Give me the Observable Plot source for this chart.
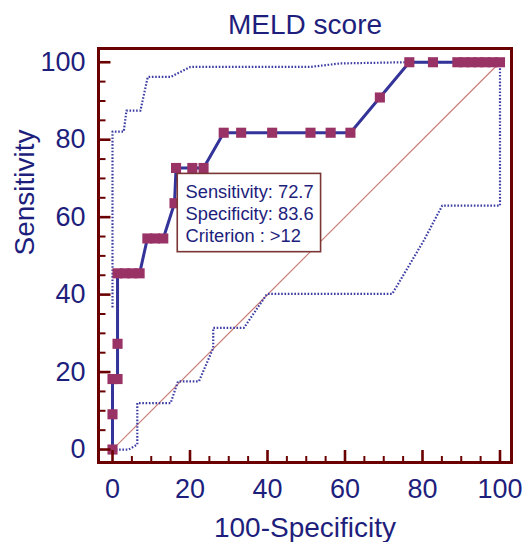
<!DOCTYPE html>
<html><head><meta charset="utf-8">
<script src="https://cdn.jsdelivr.net/npm/d3@7"></script>
<script src="https://cdn.jsdelivr.net/npm/@observablehq/plot@0.6"></script>
<style>body{margin:0;background:#fff}</style>
</head><body><div id="chart"></div>
<script>
// ROC curve points (100-Specificity, Sensitivity)
const rocFpr = [0, 0, 0, 1.3, 1.3, 1.3, 3.2, 5.1, 7.0, 9.0, 11.0, 13.1, 16.0, 16.4, 20.6, 23.5, 28.7, 33.2, 41.2, 51.1, 56.3, 61.4, 69.0, 76.6, 82.7, 89.0, 90.8, 92.6, 94.4, 96.2, 98.1, 100];
const rocSens = [0, 9.1, 18.2, 18.2, 27.3, 45.5, 45.5, 45.5, 45.5, 54.5, 54.5, 54.5, 63.6, 72.7, 72.7, 72.7, 81.8, 81.8, 81.8, 81.8, 81.8, 81.8, 90.9, 100, 100, 100, 100, 100, 100, 100, 100, 100];
// Upper confidence bound
const upperFpr = [0, 0, 2.9, 3.6, 7.2, 9.1, 15.0, 20.1, 51.1, 58.8, 75.6, 100];
const upperSens = [36.7, 82.1, 82.1, 87.5, 87.5, 96.2, 96.2, 98.8, 98.8, 99.7, 100, 100];
// Lower confidence bound
const lowerFpr = [0, 4.2, 6.4, 6.4, 15.0, 16.9, 22.3, 26.0, 26.0, 33.9, 39.9, 72.2, 80.3, 85.1, 100, 100];
const lowerSens = [0, 0, 1.3, 12.0, 12.0, 17.6, 17.6, 26.2, 31.4, 31.4, 40.2, 40.2, 53.9, 63.0, 63.0, 100];
// Diagonal reference
const diagonal = [0, 100];
// Ticks
const xTickLabels = [0, 20, 40, 60, 80, 100];
const yTickLabels = [0, 20, 40, 60, 80, 100];
// Criterion annotation
const criterion = {fpr: 16.4, sens: 72.7, spec: 83.6, label: ">12"};

const roc = rocFpr.map((x, i) => ({x, y: rocSens[i]}));
const upper = upperFpr.map((x, i) => ({x, y: upperSens[i]}));
const lower = lowerFpr.map((x, i) => ({x, y: lowerSens[i]}));
const minor = d3.range(0, 101, 5).filter(v => v % 20 !== 0);

const W = 524, H = 542, mL = 98, mR = 13, mT = 48, mB = 80;
const plotW = W - mL - mR, plotH = H - mT - mB;
const navy = "#1e1e7c", maroon = "#6b0000";
const font = "Liberation Sans, Arial, sans-serif";
const band = {stroke: "#3c3ca4", strokeWidth: 2.2, strokeDasharray: "1.6,1.7", strokeLinecap: "butt"};

const plot = Plot.plot({
  width: W, height: H,
  marginLeft: mL, marginRight: mR, marginTop: mT, marginBottom: mB,
  style: {fontFamily: font, background: "#fff"},
  x: {domain: [-3.613, 102.97], axis: null},
  y: {domain: [-3.35, 103.55], axis: null},
  marks: [
    Plot.line(diagonal, {x: d => d, y: d => d, stroke: "#c87a74", strokeWidth: 1.1}),
    Plot.line(upper, {x: "x", y: "y", ...band}),
    Plot.line(lower, {x: "x", y: "y", ...band}),
    Plot.line(roc, {x: "x", y: "y", stroke: "#333399", strokeWidth: 3}),
    Plot.dot(roc, {x: "x", y: "y", symbol: "square", r: 5.7, fill: "#993366", stroke: "none"}),
    Plot.tickY(yTickLabels, {y: d => d, insetRight: plotW - 12.5, stroke: maroon, strokeWidth: 2.6}),
    Plot.tickY(minor, {y: d => d, insetRight: plotW - 7.5, stroke: maroon, strokeWidth: 2}),
    Plot.tickX(xTickLabels, {x: d => d, insetTop: plotH - 12, stroke: maroon, strokeWidth: 2.6}),
    Plot.tickX(minor, {x: d => d, insetTop: plotH - 6, stroke: maroon, strokeWidth: 2}),
    Plot.frame({stroke: maroon, strokeWidth: 3}),
    Plot.text(xTickLabels, {x: d => d, text: d => String(d), frameAnchor: "bottom", dy: 27, lineAnchor: "middle", fontSize: 27, fill: navy}),
    Plot.text(yTickLabels, {y: d => d, text: d => String(d), frameAnchor: "left", dx: -13, textAnchor: "end", fontSize: 27, fill: navy}),
    Plot.text(["100-Specificity"], {frameAnchor: "bottom", dy: 66, lineAnchor: "middle", fontSize: 28, fill: navy}),
    Plot.text(["Sensitivity"], {frameAnchor: "left", dx: -73, rotate: -90, fontSize: 28, fill: navy}),
    Plot.text(["MELD score"], {frameAnchor: "top", dy: -23, lineAnchor: "middle", fontSize: 28, fill: navy}),
    Plot.text([criterion], {
      x: "fpr", y: "sens",
      text: d => `Sensitivity: ${d.sens}\nSpecificity: ${d.spec}\nCriterion : ${d.label}`,
      textAnchor: "start", lineAnchor: "top", dx: 9.5, dy: 14.5, lineHeight: 1.21,
      fontSize: 18.3, fill: navy, className: "annot"
    })
  ]
});

document.getElementById("chart").appendChild(plot);

// draw annotation box behind the text, fitted to its size (inside the same group, so same coordinates)
const ann = plot.querySelector("g.annot");
if (ann) {
  const bb = ann.getBBox();
  const r = document.createElementNS("http://www.w3.org/2000/svg", "rect");
  r.setAttribute("x", bb.x - 8.3);
  r.setAttribute("y", bb.y - 7.8);
  r.setAttribute("width", bb.width + 15.3);
  r.setAttribute("height", bb.height + 13.0);
  r.setAttribute("fill", "#fff");
  r.setAttribute("stroke", "#7a3535");
  r.setAttribute("stroke-width", 1.6);
  ann.insertBefore(r, ann.firstChild);
}
</script></body></html>
